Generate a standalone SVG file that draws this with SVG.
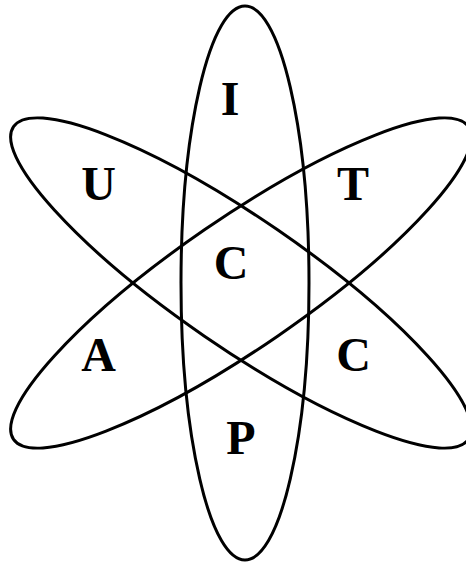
<svg xmlns="http://www.w3.org/2000/svg" width="466" height="567" viewBox="0 0 466 567">
<style>
.orb{fill:none;stroke:#000;stroke-width:3}
.lb{font-family:"Liberation Serif","Times New Roman",serif;font-weight:bold;font-size:48px;fill:#000;text-anchor:middle}
</style>
<rect width="466" height="567" fill="#fff"/>
<g id="connectors">
<ellipse id="orbit-vertical" class="orb" cx="245" cy="283" rx="64" ry="277"/>
<ellipse id="orbit-down" class="orb" cx="241" cy="283" rx="276" ry="64.5" transform="rotate(34.5 241 283)"/>
<ellipse id="orbit-up" class="orb" cx="241" cy="283" rx="276" ry="64.5" transform="rotate(-34.5 241 283)"/>
</g>
<g id="node-I"><text class="lb" x="230" y="115">I</text></g>
<g id="node-U"><text class="lb" x="98.5" y="200">U</text></g>
<g id="node-T"><text class="lb" x="353" y="200">T</text></g>
<g id="node-C-center"><text class="lb" x="231" y="279">C</text></g>
<g id="node-A"><text class="lb" x="98.5" y="371">A</text></g>
<g id="node-C-right"><text class="lb" x="353.5" y="371">C</text></g>
<g id="node-P"><text class="lb" x="241" y="454">P</text></g>
</svg>
